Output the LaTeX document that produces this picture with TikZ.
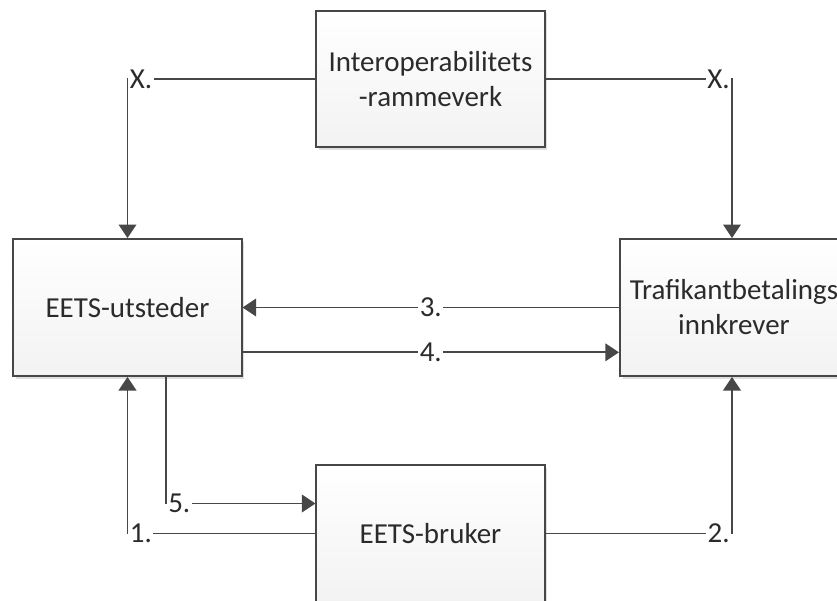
\documentclass[tikz,border=0pt]{standalone}
\usepackage{fontspec}
\setmainfont{Carlito}
\usetikzlibrary{arrows.meta, positioning, shadows}

\definecolor{linegray}{HTML}{474747}
\definecolor{textgray}{HTML}{2B2B2B}

\begin{document}
\begin{tikzpicture}[
      x=0.025cm, y=-0.025cm,
      font=\fontsize{20.6}{24.9}\selectfont,
      box/.style={draw=linegray, line width=1.4pt, top color=white, bottom color=gray!10,
        minimum width=5.7cm, minimum height=3.42cm, align=center, text=textgray,
        drop shadow={shadow xshift=0.07cm, shadow yshift=-0.07cm, opacity=0.25, fill=gray}},
      flow/.style={draw=linegray, line width=1.4pt, -{Triangle[width=0.44cm, length=0.34cm]}},
      lbl/.style={fill=white, text=textgray, inner sep=1pt}
    ]
      \useasboundingbox (0,0) rectangle (837,600);

      % the four parties
      \node[box] (rammeverk) at (430.5,79) {Interoperabilitets\\-rammeverk};
      \node[box] (utsteder) at (127.5,307.5) {EETS-utsteder};
      \node[box] (innkrever) at (734,307.5) {Trafikantbetalings\\innkrever};
      \node[box] (bruker) at (430.5,533.5) {EETS-bruker};

      % framework to both sides
      \draw[flow] (rammeverk.west) -| node[pos=0.5, anchor=west, lbl] {X.} (utsteder.north);
      \draw[flow] (rammeverk.east) -| node[pos=0.5, anchor=east, lbl] {X.} ([xshift=-0.05cm]innkrever.north);

      % between issuer and toll charger
      \draw[flow] (innkrever.west) -- node[lbl] {3.} (utsteder.east);
      \draw[flow] ([yshift=-1.12cm]utsteder.east) -- node[lbl] {4.} ([yshift=-1.12cm]innkrever.west);

      % user links
      \draw[flow] (bruker.west) -| node[pos=0.5, anchor=west, lbl] {1.} (utsteder.south);
      \draw[flow] ([xshift=0.96cm]utsteder.south) |- node[pos=0.5, anchor=west, lbl] {5.} ([yshift=0.75cm]bruker.west);
      \draw[flow] (bruker.east) -| node[pos=0.5, anchor=east, lbl] {2.} ([xshift=-0.05cm]innkrever.south);
\end{tikzpicture}
\end{document}
